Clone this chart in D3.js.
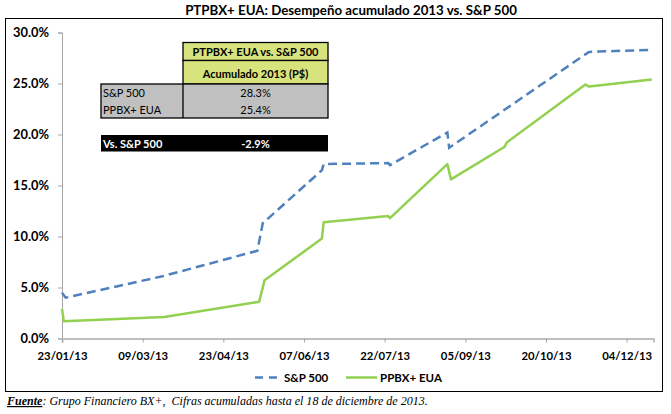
<!DOCTYPE html>
<html>
<head>
<meta charset="utf-8">
<script src="https://cdn.jsdelivr.net/npm/d3@7"></script>
<style>
  html, body { margin: 0; padding: 0; background: #fff; }
  svg { display: block; }
  text { font-family: Lato, 'Open Sans', sans-serif; }
</style>
</head>
<body>
<svg id="chart" width="671" height="414"></svg>
<script>
// ---------- DATA ----------
const titleText = "PTPBX+ EUA: Desempeño acumulado 2013 vs. S&P 500";
const seriesNames = ["S&P 500", "PPBX+ EUA"];

const spDates  = ["2013-01-23","2013-01-25","2013-03-20","2013-05-12","2013-05-15","2013-06-17","2013-06-18","2013-07-24","2013-07-25","2013-08-26","2013-08-27","2013-11-13","2013-12-18"];
const spValues = [4.5, 4.0, 6.1, 8.6, 11.3, 16.5, 17.1, 17.2, 17.0, 20.2, 18.7, 28.1, 28.3];

const ppDates  = ["2013-01-23","2013-01-24","2013-03-21","2013-05-13","2013-05-16","2013-06-17","2013-06-18","2013-07-24","2013-07-25","2013-08-26","2013-08-28","2013-09-27","2013-09-28","2013-11-11","2013-11-13","2013-12-18"];
const ppValues = [2.9, 1.7, 2.1, 3.6, 5.7, 9.8, 11.4, 12.0, 11.8, 17.1, 15.6, 18.8, 19.2, 24.9, 24.7, 25.4];

const yTicks = [0, 5, 10, 15, 20, 25, 30];
const xTickLabels = ["23/01/13","09/03/13","23/04/13","07/06/13","22/07/13","05/09/13","20/10/13","04/12/13"];

const tableHeader = ["PTPBX+ EUA vs. S&P 500", "Acumulado 2013 (P$)"];
const diffLabel = "Vs. S&P 500";
const footerBold = "Fuente";
const footerRest = ": Grupo Financiero BX+,  Cifras acumuladas hasta el 18 de diciembre de 2013.";

// ---------- HELPERS ----------
// scale a text's font size so that it renders at the given width
function fit(sel, target) {
  const fs = parseFloat(sel.attr("font-size"));
  const w = sel.node().getComputedTextLength();
  const nfs = w > 0 ? fs * target / w : fs;
  sel.attr("font-size", nfs);
  return nfs;
}

// ---------- SETUP ----------
const svg = d3.select("#chart");
const parse = d3.timeParse("%Y-%m-%d");
const parseTick = d3.timeParse("%d/%m/%y");
const blue = "#4f81bd", green = "#92d050";

const x = d3.scaleTime()
  .domain([parse("2013-01-23"), parse("2013-12-19")])
  .range([62, 653.5]);
const y = d3.scaleLinear().domain([0, 30]).range([338.5, 32.5]);

svg.append("rect").attr("width", 671).attr("height", 414).attr("fill", "#fff");

// outer border
svg.append("rect").attr("x", 5.5).attr("y", 18.5).attr("width", 657).attr("height", 373)
  .attr("fill", "none").attr("stroke", "#000").attr("stroke-width", 1);

// title
const title = svg.append("text").attr("x", 351).attr("y", 15).attr("text-anchor", "middle")
  .attr("font-weight", "bold").attr("font-size", 13.5).attr("fill", "#000").text(titleText);
fit(title, 332);

// Y axis
const yAxis = d3.axisLeft(y).tickValues(yTicks).tickSize(4).tickPadding(9)
  .tickFormat(d => d.toFixed(1) + "%");
const gy = svg.append("g").attr("transform", "translate(62,0)").call(yAxis);
gy.select(".domain").attr("stroke", "#a6a6a6");
gy.selectAll(".tick line").attr("stroke", "#a6a6a6");
const yLabels = gy.selectAll(".tick text").attr("font-family", "Lato, sans-serif").attr("font-weight", "bold")
  .attr("font-size", 12).attr("fill", "#000");
const yfs = fit(gy.selectAll(".tick text").filter(d => d === 30), 36);
yLabels.attr("font-size", yfs);

// X axis
const xTickDates = xTickLabels.map(parseTick);
const xAxis = d3.axisBottom(x).tickValues(xTickDates).tickSize(4).tickPadding(9)
  .tickFormat((d, i) => xTickLabels[i]);
const gx = svg.append("g").attr("transform", "translate(0,338.5)").call(xAxis);
gx.select(".domain").attr("stroke", "#bfbfbf").attr("stroke-width", 2);
gx.selectAll(".tick line").attr("stroke", "#a6a6a6");
const xLabels = gx.selectAll(".tick text").attr("font-family", "Lato, sans-serif").attr("font-weight", "bold")
  .attr("font-size", 12).attr("fill", "#000");
const xfs = fit(d3.select(xLabels.nodes()[0]), 50);
xLabels.attr("font-size", xfs);

// lines
const line = d3.line().x(d => x(d.date)).y(d => y(d.v));
const spData = spDates.map((d, i) => ({ date: parse(d), v: spValues[i] }));
const ppData = ppDates.map((d, i) => ({ date: parse(d), v: ppValues[i] }));

svg.append("path").datum(ppData).attr("d", line).attr("fill", "none")
  .attr("stroke", green).attr("stroke-width", 2.5).attr("stroke-linejoin", "round");
svg.append("path").datum(spData).attr("d", line).attr("fill", "none")
  .attr("stroke", blue).attr("stroke-width", 2.5).attr("stroke-dasharray", "9,5");

// legend
const lg = svg.append("g");
lg.append("line").attr("x1", 255).attr("x2", 277).attr("y1", 377.5).attr("y2", 377.5)
  .attr("stroke", blue).attr("stroke-width", 2.5).attr("stroke-dasharray", "8,6");
const l1 = lg.append("text").attr("x", 284).attr("y", 382).attr("font-weight", "bold").attr("font-size", 12)
  .text(seriesNames[0]);
lg.append("line").attr("x1", 346).attr("x2", 377).attr("y1", 377.5).attr("y2", 377.5)
  .attr("stroke", green).attr("stroke-width", 2.5);
const l2 = lg.append("text").attr("x", 380).attr("y", 382).attr("font-weight", "bold").attr("font-size", 12)
  .text(seriesNames[1]);
const lfs = fit(l2, 62);
l1.attr("font-size", lfs);

// summary table
const lastSp = spValues[spValues.length - 1];
const lastPp = ppValues[ppValues.length - 1];
const tg = svg.append("g");
const tx0 = 101, tx1 = 183, tx2 = 328, tcx = (tx1 + tx2) / 2;
tg.append("rect").attr("x", tx1).attr("y", 42.5).attr("width", tx2 - tx1).attr("height", 18)
  .attr("fill", "#d7e37d").attr("stroke", "#000").attr("stroke-width", 1.3);
tg.append("rect").attr("x", tx1).attr("y", 60.5).attr("width", tx2 - tx1).attr("height", 23.5)
  .attr("fill", "#d7e37d").attr("stroke", "#000").attr("stroke-width", 1.3);
tg.append("rect").attr("x", tx0).attr("y", 84).attr("width", tx2 - tx0).attr("height", 34)
  .attr("fill", "#c0c0c0").attr("stroke", "#000").attr("stroke-width", 1.3);
tg.append("line").attr("x1", tx1).attr("x2", tx1).attr("y1", 84).attr("y2", 118)
  .attr("stroke", "#000").attr("stroke-width", 1.3);
tg.append("rect").attr("x", tx0).attr("y", 135).attr("width", tx2 - tx0).attr("height", 16.5)
  .attr("fill", "#000");

const h1 = tg.append("text").attr("x", tcx).attr("y", 56).attr("text-anchor", "middle")
  .attr("font-weight", "bold").attr("font-size", 11).text(tableHeader[0]);
const hfs = fit(h1, 126);
tg.append("text").attr("x", tcx).attr("y", 78).attr("text-anchor", "middle")
  .attr("font-weight", "bold").attr("font-size", hfs).text(tableHeader[1]);
const r1 = tg.append("text").attr("x", tx0 + 2).attr("y", 96.5).attr("font-size", 11).text(seriesNames[0]);
const rfs = fit(r1, 42);
tg.append("text").attr("x", tcx).attr("y", 96.5).attr("text-anchor", "middle").attr("font-size", rfs)
  .text(lastSp.toFixed(1) + "%");
tg.append("text").attr("x", tx0 + 2).attr("y", 114).attr("font-size", rfs).text(seriesNames[1]);
tg.append("text").attr("x", tcx).attr("y", 114).attr("text-anchor", "middle").attr("font-size", rfs)
  .text(lastPp.toFixed(1) + "%");
tg.append("text").attr("x", tx0 + 2).attr("y", 147.5).attr("font-weight", "bold").attr("font-size", hfs)
  .attr("fill", "#fff").text(diffLabel);
tg.append("text").attr("x", tcx).attr("y", 147.5).attr("text-anchor", "middle").attr("font-weight", "bold")
  .attr("font-size", hfs).attr("fill", "#fff").text((lastPp - lastSp).toFixed(1) + "%");

// footer
const ft = svg.append("text").attr("x", 7).attr("y", 405)
  .attr("font-family", "'Liberation Serif', 'DejaVu Serif', serif").attr("font-style", "italic")
  .attr("font-size", 12).attr("fill", "#000").style("white-space", "pre");
ft.append("tspan").attr("font-weight", "bold").attr("text-decoration", "underline")
  .style("font-family", "'Liberation Serif', serif").text(footerBold);
ft.append("tspan").style("font-family", "'Liberation Serif', serif").text(footerRest);
fit(ft, 421);
</script>
</body>
</html>
